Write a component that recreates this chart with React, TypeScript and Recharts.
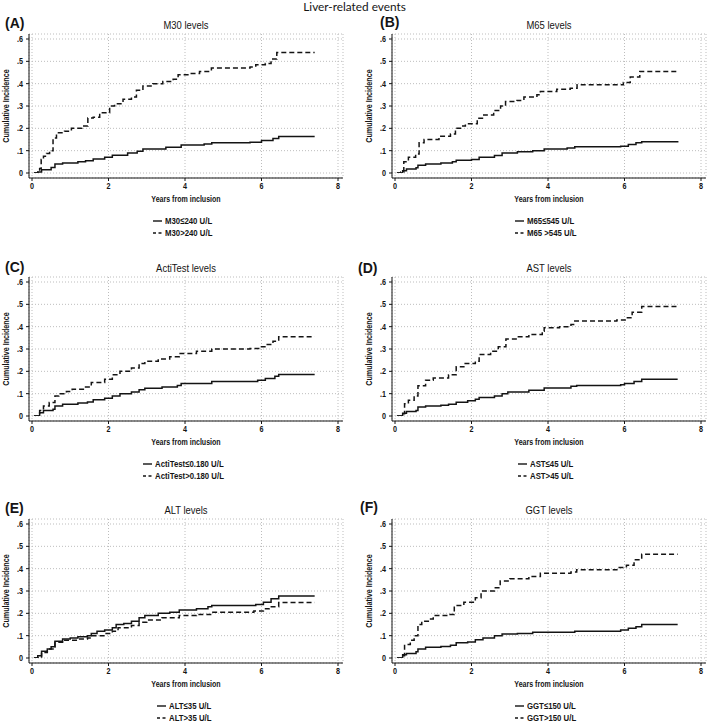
import React from 'react';
import { LineChart, Line, XAxis, YAxis, CartesianGrid } from 'recharts';

// ---------- tick labels / categories ----------
const xTicks = [0, 2, 4, 6, 8];
const yTicks = [0, 0.1, 0.2, 0.3, 0.4, 0.5, 0.6];
const mainTitle = 'Liver-related events';
const panelLetters = ['(A)', '(B)', '(C)', '(D)', '(E)', '(F)'];
const panelTitles = ['M30 levels', 'M65 levels', 'ActiTest levels', 'AST levels', 'ALT levels', 'GGT levels'];
const lowLabels = ['M30≤240 U/L', 'M65≤545 U/L', 'ActiTest≤0.180 U/L', 'AST≤45 U/L', 'ALT≤35 U/L', 'GGT≤150 U/L'];
const highLabels = ['M30>240 U/L', 'M65 >545 U/L', 'ActiTest>0.180 U/L', 'AST>45 U/L', 'ALT>35 U/L', 'GGT>150 U/L'];

// ---------- series values: [years, cumulative incidence] ----------
const m30Low = [[0.05,0],[0.15,0.005],[0.25,0.015],[0.5,0.025],[0.6,0.04],[0.8,0.045],[1.2,0.05],[1.4,0.055],[1.6,0.063],[1.9,0.07],[2.1,0.08],[2.5,0.09],[2.75,0.097],[2.9,0.107],[3.5,0.115],[3.9,0.125],[4.5,0.13],[4.7,0.135],[5.7,0.138],[6.0,0.145],[6.3,0.155],[6.45,0.163],[7.39,0.163]];
const m30High = [[0.05,0],[0.15,0.01],[0.2,0.02],[0.24,0.06],[0.3,0.075],[0.38,0.087],[0.46,0.1],[0.55,0.157],[0.64,0.18],[0.85,0.187],[1.03,0.2],[1.3,0.21],[1.46,0.246],[1.6,0.25],[1.77,0.27],[2.03,0.3],[2.16,0.31],[2.38,0.33],[2.6,0.34],[2.73,0.37],[2.9,0.39],[3.16,0.4],[3.42,0.41],[3.69,0.42],[3.82,0.44],[4.1,0.445],[4.38,0.455],[4.69,0.47],[5.7,0.475],[5.85,0.485],[6.1,0.49],[6.25,0.51],[6.4,0.54],[7.39,0.54]];

const m65Low = [[0.05,0],[0.2,0.01],[0.3,0.018],[0.55,0.023],[0.6,0.035],[0.8,0.04],[1.2,0.045],[1.5,0.05],[1.6,0.057],[2.0,0.06],[2.2,0.07],[2.6,0.078],[2.8,0.09],[3.2,0.095],[3.6,0.1],[3.9,0.108],[4.5,0.112],[4.7,0.117],[5.9,0.12],[6.1,0.128],[6.3,0.135],[6.45,0.14],[7.41,0.14]];
const m65High = [[0.05,0],[0.15,0.005],[0.23,0.05],[0.35,0.07],[0.54,0.085],[0.63,0.135],[0.76,0.15],[1.15,0.165],[1.45,0.175],[1.58,0.2],[1.71,0.21],[1.84,0.22],[2.15,0.245],[2.32,0.26],[2.58,0.28],[2.76,0.3],[2.89,0.32],[3.19,0.325],[3.37,0.34],[3.71,0.35],[3.8,0.365],[4.23,0.375],[4.58,0.38],[4.76,0.395],[5.71,0.395],[5.97,0.405],[6.15,0.43],[6.4,0.455],[7.41,0.455]];

const actiLow = [[0.05,0],[0.2,0.015],[0.3,0.025],[0.55,0.03],[0.6,0.045],[0.8,0.053],[1.2,0.058],[1.45,0.063],[1.6,0.073],[1.9,0.08],[2.1,0.09],[2.3,0.1],[2.6,0.108],[2.8,0.118],[2.95,0.124],[3.4,0.13],[3.8,0.137],[3.9,0.145],[4.7,0.155],[5.9,0.16],[6.1,0.168],[6.35,0.178],[6.45,0.186],[7.39,0.186]];
const actiHigh = [[0.05,0],[0.2,0.025],[0.3,0.045],[0.45,0.06],[0.6,0.09],[0.7,0.1],[0.9,0.11],[1.05,0.12],[1.4,0.13],[1.55,0.15],[1.9,0.165],[2.1,0.185],[2.3,0.2],[2.6,0.215],[2.8,0.235],[2.95,0.245],[3.3,0.255],[3.6,0.265],[3.85,0.28],[4.3,0.29],[4.7,0.3],[5.7,0.302],[5.95,0.31],[6.15,0.32],[6.3,0.335],[6.45,0.355],[7.39,0.355]];

const astLow = [[0.05,0],[0.2,0.012],[0.3,0.02],[0.55,0.025],[0.6,0.04],[0.8,0.045],[1.2,0.048],[1.4,0.053],[1.6,0.062],[1.9,0.068],[2.1,0.075],[2.2,0.083],[2.6,0.09],[2.8,0.1],[2.95,0.107],[3.5,0.115],[3.9,0.125],[4.6,0.133],[4.75,0.137],[5.9,0.14],[6.0,0.145],[6.25,0.155],[6.45,0.165],[7.39,0.165]];
const astHigh = [[0.05,0],[0.2,0.01],[0.25,0.055],[0.35,0.07],[0.5,0.09],[0.6,0.135],[0.8,0.16],[1.0,0.17],[1.4,0.185],[1.6,0.22],[1.8,0.235],[2.1,0.245],[2.2,0.275],[2.5,0.29],[2.7,0.31],[2.9,0.345],[3.2,0.355],[3.5,0.365],[3.85,0.38],[3.9,0.395],[4.3,0.4],[4.6,0.41],[4.7,0.425],[5.8,0.43],[6.05,0.44],[6.2,0.465],[6.45,0.49],[7.39,0.49]];

const altLow = [[0.05,0],[0.15,0.01],[0.25,0.03],[0.4,0.04],[0.5,0.05],[0.6,0.075],[0.8,0.085],[1.0,0.09],[1.2,0.095],[1.45,0.1],[1.55,0.11],[1.7,0.12],[1.9,0.125],[2.1,0.135],[2.2,0.15],[2.4,0.155],[2.6,0.165],[2.8,0.18],[2.95,0.19],[3.3,0.2],[3.6,0.205],[3.85,0.215],[4.3,0.22],[4.6,0.23],[4.7,0.235],[5.85,0.24],[6.05,0.25],[6.25,0.265],[6.45,0.278],[7.39,0.278]];
const altHigh = [[0.05,0],[0.25,0.025],[0.4,0.04],[0.55,0.05],[0.6,0.07],[0.8,0.08],[1.2,0.085],[1.45,0.09],[1.55,0.1],[1.9,0.11],[2.1,0.12],[2.25,0.135],[2.6,0.145],[2.8,0.16],[3.0,0.17],[3.4,0.18],[3.85,0.19],[4.3,0.195],[4.7,0.205],[5.8,0.21],[6.05,0.22],[6.2,0.23],[6.45,0.248],[7.39,0.248]];

const ggtLow = [[0.05,0],[0.2,0.015],[0.3,0.02],[0.55,0.028],[0.6,0.04],[0.8,0.048],[1.2,0.052],[1.45,0.057],[1.6,0.068],[1.9,0.072],[2.1,0.082],[2.3,0.09],[2.6,0.1],[2.8,0.107],[3.2,0.11],[3.6,0.115],[4.7,0.12],[5.9,0.125],[6.1,0.133],[6.3,0.14],[6.45,0.15],[7.39,0.15]];
const ggtHigh = [[0.05,0],[0.2,0.01],[0.25,0.06],[0.4,0.08],[0.5,0.1],[0.6,0.15],[0.7,0.165],[0.9,0.175],[1.0,0.19],[1.4,0.195],[1.55,0.235],[1.8,0.25],[2.1,0.27],[2.25,0.3],[2.6,0.315],[2.75,0.345],[3.0,0.355],[3.5,0.365],[3.8,0.38],[4.6,0.385],[4.75,0.395],[5.8,0.405],[6.05,0.415],[6.25,0.44],[6.45,0.465],[7.39,0.465]];

const lowSeries = [m30Low, m65Low, actiLow, astLow, altLow, ggtLow];
const highSeries = [m30High, m65High, actiHigh, astHigh, altHigh, ggtHigh];

// ---------- layout (positions only) ----------
const panelPos = [
  { x: 0, y: 0, lx: 5, ly: 23, kx: 153 },
  { x: 363, y: 0, lx: 17, ly: 22.4, kx: 152 },
  { x: 0, y: 243, lx: 5, ly: 24, kx: 143 },
  { x: 363, y: 243, lx: -5, ly: 25, kx: 155 },
  { x: 0, y: 485, lx: 5, ly: 23, kx: 157 },
  { x: 363, y: 485, lx: -3, ly: 22, kx: 152 },
];

const SANS = "'Liberation Sans', Arial, sans-serif";
const SQUEEZE = 0.82;
const INK = '#141414';
const TICK = 8.8;

const toRows = (pairs: number[][]) => pairs.map(([t, v]) => ({ t, v }));
const fmtY = (v: number) => (v === 0 ? '0' : v.toFixed(1).replace(/^0/, ''));

const PLOT_L = 29;
const PLOT_R = 343;
const CHART_W = 355;

function XTick(props: any) {
  const { x, y, payload } = props;
  return (
    <g transform={`translate(${x},${y}) scale(${SQUEEZE},1)`}>
      <text x={0} y={0} dy="0.71em" textAnchor="middle" fontSize={TICK} fontWeight="bold" fill={INK} fontFamily={SANS}>
        {payload.value}
      </text>
    </g>
  );
}

function YTick(props: any) {
  const { x, y, payload } = props;
  return (
    <g transform={`translate(${x},${y}) scale(${SQUEEZE},1)`}>
      <text x={0} y={0} dy="0.355em" textAnchor="end" fontSize={TICK} fontWeight="bold" fill={INK} fontFamily={SANS}>
        {fmtY(payload.value)}
      </text>
    </g>
  );
}

const narrowCss = (origin: string): React.CSSProperties => ({
  fontFamily: SANS,
  color: INK,
  whiteSpace: 'nowrap',
  transform: `scaleX(${SQUEEZE})`,
  transformOrigin: origin,
});

function LegendKey({ dashed }: { dashed: boolean }) {
  return (
    <svg width={9} height={12} style={{ display: 'block' }}>
      <line x1={0} y1={6} x2={9} y2={6} stroke={INK} strokeWidth={1.4} strokeDasharray={dashed ? '3 2.5' : undefined} />
    </svg>
  );
}

function Panel({ i }: { i: number }) {
  const p = panelPos[i];
  const low = toRows(lowSeries[i]);
  const high = toRows(highSeries[i]);
  return (
    <div style={{ position: 'absolute', left: p.x, top: p.y, width: CHART_W, height: 240 }}>
      <div style={{ position: 'absolute', left: p.lx, top: p.ly - 7, fontFamily: SANS, fontWeight: 'bold', fontSize: 14, lineHeight: '14px', color: INK }}>
        {panelLetters[i]}
      </div>
      <div style={{ position: 'absolute', left: PLOT_L, width: PLOT_R - PLOT_L, top: 19, textAlign: 'center', fontSize: 11.5, lineHeight: '13px', ...narrowCss('center') }}>
        {panelTitles[i]}
      </div>
      <div style={{ position: 'absolute', left: 6 - 75, top: 106 - 6, width: 150, height: 12, textAlign: 'center', transform: 'rotate(-90deg)', transformOrigin: 'center' }}>
        <div style={{ fontSize: 8.7, fontWeight: 'bold', lineHeight: '12px', ...narrowCss('center') }}>Cumulative Incidence</div>
      </div>
      <div style={{ position: 'absolute', left: 0, top: 0 }}>
        <LineChart width={CHART_W} height={200} margin={{ top: 34, right: CHART_W - PLOT_R, left: 4, bottom: 2 }}>
          <CartesianGrid stroke="#bdbdbd" strokeDasharray="1 2" />
          <XAxis
            dataKey="t"
            type="number"
            domain={[0, 8]}
            ticks={xTicks}
            interval={0}
            padding={{ left: 3, right: 5 }}
            height={20}
            tickSize={3}
            tickMargin={2}
            stroke={INK}
            tick={<XTick />}
            allowDataOverflow
          />
          <YAxis
            type="number"
            domain={[0, 0.6]}
            ticks={yTicks}
            interval={0}
            padding={{ top: 5, bottom: 5 }}
            width={25}
            tickSize={3}
            tickMargin={3}
            stroke={INK}
            tick={<YTick />}
            allowDataOverflow
          />
          <Line data={low} dataKey="v" type="stepAfter" stroke={INK} strokeWidth={1.5} dot={false} isAnimationActive={false} />
          <Line data={high} dataKey="v" type="stepAfter" stroke={INK} strokeWidth={1.5} strokeDasharray="5 3" dot={false} isAnimationActive={false} />
        </LineChart>
      </div>
      <div style={{ position: 'absolute', left: PLOT_L, width: PLOT_R - PLOT_L, top: 193, textAlign: 'center', fontSize: 8.6, fontWeight: 'bold', lineHeight: '12px', ...narrowCss('center') }}>
        Years from inclusion
      </div>
      <div style={{ position: 'absolute', left: p.kx, top: 215 }}>
        {[false, true].map((dashed, k) => (
          <div key={k} style={{ display: 'flex', alignItems: 'center', height: 12 }}>
            <LegendKey dashed={dashed} />
            <span style={{ marginLeft: 3, fontSize: 9.5, fontWeight: 'bold', lineHeight: '12px', display: 'inline-block', ...narrowCss('left center') }}>
              {dashed ? highLabels[i] : lowLabels[i]}
            </span>
          </div>
        ))}
      </div>
    </div>
  );
}

export default function App() {
  return (
    <div style={{ position: 'absolute', left: 0, top: 0, width: 709, height: 724, background: '#fff' }}>
      <div style={{ position: 'absolute', left: 0, width: 709, top: 0.3, textAlign: 'center', fontFamily: 'Lato, Carlito, sans-serif', fontSize: 11.8, lineHeight: '14px', color: INK }}>
        {mainTitle}
      </div>
      {panelTitles.map((_, i) => (
        <Panel key={i} i={i} />
      ))}
    </div>
  );
}
